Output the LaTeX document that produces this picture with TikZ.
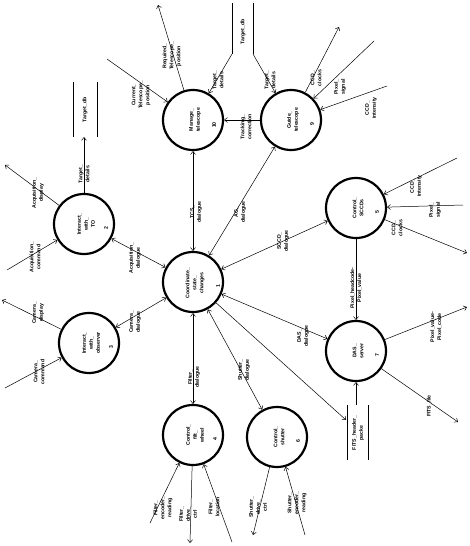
\documentclass[tikz,border=0pt]{standalone}
\usepackage{fontspec}
\setmainfont{Liberation Sans}
\usetikzlibrary{arrows.meta}
\begin{document}
\begin{tikzpicture}[x=1pt,y=-1pt,
  proc/.style={circle,draw,line width=2.2pt,minimum size=60pt,inner sep=0pt},
  ptxt/.style={rotate=90,align=center,font=\fontsize{5.2}{7}\selectfont\bfseries,inner sep=0pt},
  lbl/.style={rotate=90,align=center,font=\fontsize{5.2}{7}\selectfont\bfseries,inner sep=0pt},
  flow/.style={line width=0.5pt,-{Straight Barb[length=3pt,width=5pt]}},
  flowb/.style={line width=0.5pt,{Straight Barb[length=3pt,width=5pt]}-{Straight Barb[length=3pt,width=5pt]}},
  storeline/.style={line width=0.8pt}]
\useasboundingbox (0,0) rectangle (470,546);

% processes
\node[proc] (c1) at (193,282) {};
\node[ptxt] (t1) at (195,283) {Coordinate\_\\state\_\\changes};
\node[ptxt] (n1) at (218,286) {1};
\node[proc] (c2) at (84,224) {};
\node[ptxt] (t2) at (86,224) {Interact\_\\with\_\\TO};
\node[ptxt] (n2) at (106,228) {2};
\node[proc] (c3) at (89,343) {};
\node[ptxt] (t3) at (91,343) {Interact\_\\with\_\\observer};
\node[ptxt] (n3) at (111,347) {3};
\node[proc] (c4) at (193,435) {};
\node[ptxt] (t4) at (195,435) {Control\_\\filt\_\\wheel};
\node[ptxt] (n4) at (215,439) {4};
\node[proc] (c5) at (356,208) {};
\node[ptxt] (t5) at (358,208) {Control\_\\SCCDs};
\node[ptxt] (n5) at (377,212) {5};
\node[proc] (c6) at (277,437) {};
\node[ptxt] (t6) at (279,437) {Control\_\\shutter};
\node[ptxt] (n6) at (298,441) {6};
\node[proc] (c7) at (356,351) {};
\node[ptxt] (t7) at (358,351) {DAS\_\\server};
\node[ptxt] (n7) at (377,355) {7};
\node[proc] (c9) at (291,120) {};
\node[ptxt] (t9) at (293,120) {Guide\_\\telescope};
\node[ptxt] (n9) at (312,124) {9};
\node[proc] (c10) at (193,120) {};
\node[ptxt] (t10) at (195,120) {Manage\_\\telescope};
\node[ptxt] (n10) at (214,125) {10};

% data stores
\draw[storeline] (73,82) -- (73,137) (97,82) -- (97,137);
\node[lbl] (sl) at (85,110) {Target\_db};
\draw[storeline] (232,3) -- (232,54) (253,3) -- (253,54);
\node[lbl] (st) at (243,32) {Target\_db};
\draw[storeline] (347,405) -- (347,460) (368,405) -- (368,460);
\node[lbl] (sf) at (358,433) {FITS\_header\_\\packe};

% free ends
\coordinate (cur) at (107,59);
\coordinate (req) at (158,5);
\coordinate (stl) at (232,54);
\coordinate (str) at (253,54);
\coordinate (clk1) at (339,27);
\coordinate (pix1) at (374,41);
\coordinate (int1) at (387,86);
\coordinate (acqd) at (5,165);
\coordinate (acqc) at (7,270);
\coordinate (tdl) at (84,137);
\coordinate (camd) at (2,300);
\coordinate (camc) at (5,388);
\coordinate (int2) at (457,158);
\coordinate (pix2) at (463,205);
\coordinate (clk2) at (467,253);
\coordinate (pv) at (467,307);
\coordinate (fits) at (458,422);
\coordinate (fht) at (356,405);
\coordinate (fhl) at (346,420);
\coordinate (fenc) at (150,523);
\coordinate (fdrv) at (190,543);
\coordinate (floc) at (232,542);
\coordinate (sdrv) at (253,535);
\coordinate (senc) at (305,535);

% flows
\draw[flow] (cur) -- (c10);
\draw[flow] (c10) -- (req);
\draw[flow] (stl) -- (c10);
\draw[flow] (str) -- (c9);
\draw[flow] (c9) -- (c10);
\draw[flow] (c9) -- (clk1);
\draw[flow] (pix1) -- (c9);
\draw[flow] (int1) -- (c9);
\draw[flowb] (c1) -- (c10);
\draw[flowb] (c1) -- (c9);
\draw[flowb] (c1) -- (c5);
\draw[flowb] (c1) -- (c7);
\draw[flowb] (c1) -- (c4);
\draw[flowb] (c1) -- (c6);
\draw[flowb] (c1) -- (c2);
\draw[flowb] (c1) -- (c3);
\draw[flow] (c1) -- (fhl);
\draw[flow] (fht) -- (c7);
\draw[flow] (c2) -- (acqd);
\draw[flow] (acqc) -- (c2);
\draw[flow] (c2) -- (tdl);
\draw[flow] (c3) -- (camd);
\draw[flow] (camc) -- (c3);
\draw[flow] (int2) -- (c5);
\draw[flow] (pix2) -- (c5);
\draw[flow] (c5) -- (clk2);
\draw[flow] (c5) -- (c7);
\draw[flow] (c7) -- (pv);
\draw[flow] (c7) -- (fits);
\draw[flow] (fenc) -- (c4);
\draw[flow] (c4) -- (fdrv);
\draw[flow] (floc) -- (c4);
\draw[flow] (c6) -- (sdrv);
\draw[flow] (senc) -- (c6);

% labels
\node[lbl] (l1) at (141,95) {Current\_\\Telescope\_\\position};
\node[lbl] (l2) at (172,56) {Required\_\\Telescope\_\\position};
\node[lbl] (l3) at (218,80) {Target\_\\details};
\node[lbl] (l4) at (270,80) {Target\_\\details};
\node[lbl] (l5) at (246,127) {Tracking\_\\correction};
\node[lbl] (l6) at (316,78) {CCD\_\\clocks};
\node[lbl] (l7) at (340,87) {Pixel\_\\signal};
\node[lbl] (l8) at (371,108) {CCD\_\\intensity};
\node[lbl] (l9) at (84,174) {Target\_\\details};
\node[lbl] (l10) at (38,193) {Acquisition\_\\display};
\node[lbl] (l11) at (35,257) {Acquisition\_\\command};
\node[lbl] (l12) at (135,258) {Acquisition\_\\dialogue};
\node[lbl] (l13) at (38,313) {Camera\_\\display};
\node[lbl] (l14) at (39,372) {Camera\_\\command};
\node[lbl] (l15) at (135,322) {Camera\_\\dialogue};
\node[lbl] (l16) at (196,212) {TCS\_\\dialogue};
\node[lbl] (l17) at (240,212) {AG\_\\dialogue};
\node[lbl] (l18) at (283,241) {SCCD\_\\dialogue};
\node[lbl] (l19) at (303,336) {DAS\_\\dialogue};
\node[lbl] (l20) at (194,377) {Filter\_\\dialogue};
\node[lbl] (l21) at (244,370) {Shutter\_\\dialogue};
\node[lbl] (l22) at (416,186) {CCD\_\\intensity};
\node[lbl] (l23) at (435,210) {Pixel\_\\signal};
\node[lbl] (l24) at (397,228) {CCD\_\\clocks};
\node[lbl] (l25) at (356,288) {Pixel\_headcode-\\Pixel\_value};
\node[lbl] (l26) at (436,327) {Pixel\_value-\\Pixel\_code};
\node[lbl] (l27) at (429,406) {FITS\_file};
\node[lbl] (l28) at (163,508) {Filter\_\\encoder\_\\reading};
\node[lbl] (l29) at (188,514) {Filter\_\\drive\_\\ctrl};
\node[lbl] (l30) at (214,507) {Filter\_\\location};
\node[lbl] (l31) at (258,507) {Shutter\_\\drive\_\\ctrl};
\node[lbl] (l32) at (297,503) {Shutter\_\\encoder\_\\reading};
\end{tikzpicture}
\end{document}
